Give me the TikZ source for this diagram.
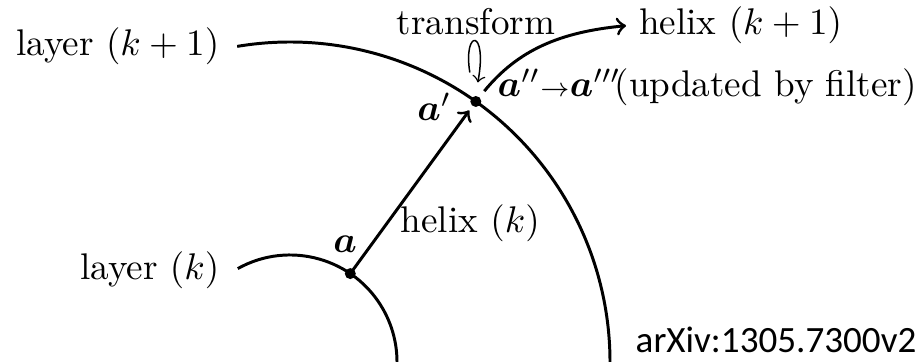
\documentclass[tikz,border=0pt]{standalone}
\usepackage{amsmath}
\usepackage{fontspec}
\newfontfamily\arxivfont{Carlito}
\usetikzlibrary{calc}
\begin{document}
\begin{tikzpicture}[x=0.2695pt,y=0.2695pt,
  curve/.style={line width=0.8pt},
  lbl/.style={inner sep=0pt},
  dotmark/.style={fill=black}]
\useasboundingbox (0,0) rectangle (923,362);
% centre of the layers
\coordinate (C) at (290,0);
% points on layers
\coordinate (a) at ($(C)+(55.7:107)$);
\coordinate (ap) at ($(C)+(54.5:320)$);
% layers
\draw[curve] ($(C)+(119.2:107)$) arc[start angle=119.2, end angle=0, radius=107];
\draw[curve] ($(C)+(99.5:320)$) arc[start angle=99.5, end angle=0, radius=320];
% labels
\node[lbl, anchor=base east] (lk1) at (220,306) {layer $(k+1)$};
\node[lbl, anchor=base east] (lk) at (220,82) {layer $(k)$};
\node[lbl, anchor=base] (tr) at (476,327) {transform};
\node[anchor=base west] (h1) at (626,327) {helix $(k+1)$};
\node[lbl, anchor=base west] (upd) at (497,265) {$\boldsymbol{a}''{\scriptstyle\to}\boldsymbol{a}'''\!$(updated by filter)};
\node[lbl, anchor=base east] (lap) at (452,241) {$\boldsymbol{a}'$};
\node[lbl, anchor=base] (la) at (345,109) {$\boldsymbol{a}$};
\node[lbl, anchor=base west] (hk) at (400,129) {helix $(k)$};
\node[lbl, anchor=base west] (arx) at (635,9) {\arxivfont arXiv:1305.7300v2};
% helix k
\draw[curve,->,shorten >=3pt] (a) -- (ap);
% helix k+1
\draw[curve,->,shorten <=3.6pt] (ap) .. controls (518,312) and (560,330) .. (h1.west);
% transform loop
\coordinate (t0) at ($(ap)+(-6,29)$);
\coordinate (t1) at ($(ap)+(2,19)$);
\draw[line width=0.4pt,->] (t0) .. controls ($(ap)+(-13,72)$) and ($(ap)+(12,74)$) .. (t1);
% dots
\fill[dotmark] (a) circle (5.5);
\fill[dotmark] (ap) circle (5.5);
\end{tikzpicture}
\end{document}
